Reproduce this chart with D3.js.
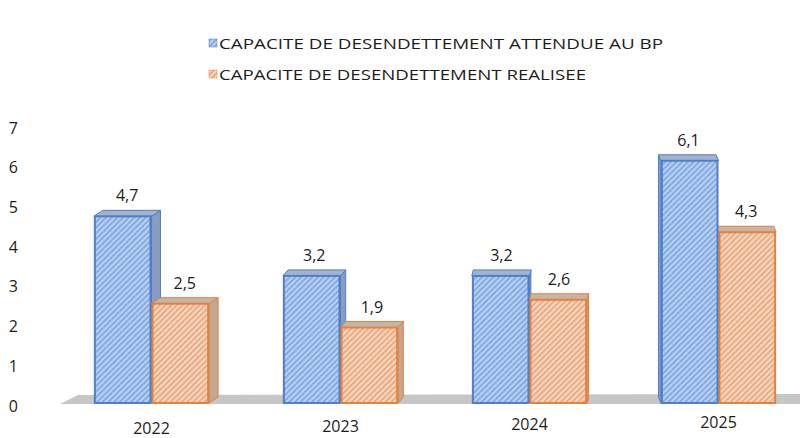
<!DOCTYPE html>
<html lang="fr">
<head>
<meta charset="UTF-8">
<title>Capacité de désendettement</title>
<script src="https://d3js.org/d3.v7.min.js"></script>
<style>
  body { margin: 0; background: #fff; }
  text { font-family: "Open Sans", Lato, sans-serif; fill: #1c1c1c; }
</style>
</head>
<body>
<svg id="chart" width="800" height="438"></svg>
<script>
const years = ["2022", "2023", "2024", "2025"];
const seriesNames = ["CAPACITE DE DESENDETTEMENT ATTENDUE AU BP", "CAPACITE DE DESENDETTEMENT REALISEE"];
const attendue = [4.7, 3.2, 3.2, 6.1];
const realisee = [2.5, 1.9, 2.6, 4.3];
const yTicks = [0, 1, 2, 3, 4, 5, 6, 7];

const svg = d3.select("#chart");
const defs = svg.append("defs");

// hatch fills, one per series
const fills = [
  {id: "hatchBlue", bg: "#b7cff1", line: "#7aa3dd", stroke: "#4f7fcb", side: "#8a9dbf", cap: "#a4b2ca"},
  {id: "hatchOrange", bg: "#f7d6c0", line: "#e9a274", stroke: "#e3823f", side: "#c4a792", cap: "#c6b4a6"}
];
fills.forEach(f => {
  const p = defs.append("pattern").attr("id", f.id)
    .attr("width", 4).attr("height", 4)
    .attr("patternUnits", "userSpaceOnUse")
    .attr("patternTransform", "rotate(45)");
  p.append("rect").attr("width", 4).attr("height", 4).attr("fill", f.bg);
  p.append("rect").attr("width", 1.6).attr("height", 4).attr("fill", f.line);
});

const x = d3.scaleBand().domain(years).range([57, 813]).paddingInner(0.39).paddingOuter(0.195);
const xs = d3.scaleBand().domain([0, 1]).range([0, x.bandwidth()]);
const y = d3.scaleLinear().domain([0, 7]).range([403, 125]);

// floor
svg.append("polygon")
  .attr("points", [[60, 404], [800, 404], [800, 394], [78, 395]].map(p => p.join(",")).join(" "))
  .attr("fill", "#c6c6c6");

// y axis labels only
const yAxis = d3.axisLeft(y).tickValues(yTicks).tickSize(0).tickFormat(d3.format("d"));
const gy = svg.append("g").attr("transform", "translate(21,3)").call(yAxis);
gy.select(".domain").remove();
gy.selectAll("text").style("font-size", "16px").attr("fill", "#1c1c1c");

const depthY = -6;
const fmt = d => String(d).replace(".", ",");

years.forEach((yr, i) => {
  const cx = x(yr) + x.bandwidth() / 2;
  const dx = (600 - cx) * 0.02;
  const vals = [attendue[i], realisee[i]];
  const order = dx < 0 ? [1, 0] : [0, 1];
  const g = svg.append("g");
  order.forEach(s => {
    const f = fills[s];
    const x0 = x(yr) + xs(s), x1 = x0 + xs.bandwidth();
    const yt = y(vals[s]), yb = y(0);
    const sx = dx >= 0 ? x1 : x0;
    // side face
    g.append("polygon")
      .attr("points", [[sx, yb], [sx + dx, yb + depthY], [sx + dx, yt + depthY], [sx, yt]].map(p => p.join(",")).join(" "))
      .attr("fill", f.side).attr("stroke", f.stroke).attr("stroke-width", 1);
    // top cap
    g.append("polygon")
      .attr("points", [[x0, yt], [x0 + dx, yt + depthY], [x1 + dx, yt + depthY], [x1, yt]].map(p => p.join(",")).join(" "))
      .attr("fill", f.cap).attr("stroke", f.stroke).attr("stroke-width", 1);
    // front face
    g.append("rect")
      .attr("x", x0 + 1).attr("y", yt).attr("width", xs.bandwidth() - 2).attr("height", yb - yt)
      .attr("fill", "url(#" + f.id + ")").attr("stroke", f.stroke).attr("stroke-width", 2);
    // value label
    g.append("text")
      .attr("x", (x0 + x1) / 2 + dx / 2).attr("y", yt + depthY - 9)
      .attr("text-anchor", "middle").style("font-size", "16px")
      .text(fmt(vals[s]));
  });
  svg.append("text")
    .attr("x", cx).attr("y", 434 - i * 2)
    .attr("text-anchor", "middle").style("font-size", "16px")
    .text(yr);
});

// legend
const legend = svg.append("g");
seriesNames.forEach((name, s) => {
  const ly = 43 + s * 31;
  legend.append("rect").attr("x", 209).attr("y", ly - 4).attr("width", 8).attr("height", 8)
    .attr("fill", "url(#" + fills[s].id + ")").attr("stroke", fills[s].stroke).attr("stroke-width", 0.5);
  legend.append("text").attr("x", 219).attr("y", ly + 6)
    .style("font-size", "15px")
    .attr("textLength", s === 0 ? 444 : 367).attr("lengthAdjust", "spacingAndGlyphs")
    .text(name);
});
</script>
</body>
</html>
